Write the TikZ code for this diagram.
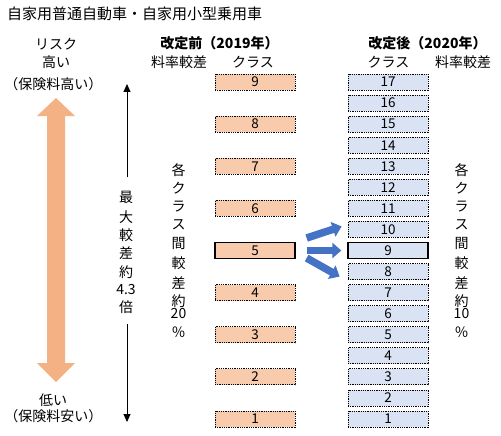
\documentclass[tikz,border=0pt]{standalone}
\usepackage{fontspec}
\setmainfont{Noto Sans CJK JP}
\usetikzlibrary{arrows.meta,calc}
\definecolor{boxorange}{HTML}{F8CBAD}
\definecolor{boxblue}{HTML}{DAE3F3}
\definecolor{bigorange}{HTML}{F4B183}
\definecolor{arrowblue}{HTML}{4472C4}
\begin{document}
\begin{tikzpicture}[x=1pt,y=-1pt,
  lbl/.style={font=\fontsize{14}{16}\selectfont, inner sep=0pt, anchor=center},
  hdr/.style={font=\fontsize{14}{16}\selectfont\bfseries, inner sep=0pt},
  cls/.style={minimum width=80pt, minimum height=16pt, inner sep=0pt,
    font=\fontsize{13.5}{14}\selectfont, draw=black, line width=0.8pt,
    dash pattern=on 0.9pt off 0.9pt},
  oldcls/.style={cls, fill=boxorange},
  newcls/.style={cls, fill=boxblue},
  cur/.style={solid, line width=1.3pt},
  thinarrow/.style={line width=0.9pt, -{Triangle[width=7pt,length=8pt]}},
  bluearrow/.style={draw=arrowblue, line width=7.5pt, -{Triangle[width=15pt,length=9pt]}}
]
\useasboundingbox (0,0) rectangle (501,436);

% title
\node[anchor=west, font=\fontsize{15}{17}\selectfont, inner sep=0pt] (title) at (7,14) {自家用普通自動車・自家用小型乗用車};

% left labels
\node[lbl] (risk) at (56,44) {リスク};
\node[lbl] (high) at (56,62.5) {高い};
\node[lbl] (highp) at (53.5,84) {（保険料高い）};
\node[lbl] (low) at (53,400) {低い};
\node[lbl] (lowp) at (53.5,416) {（保険料安い）};

% headers
\node[hdr] (hbefore) at (219.5,43.5) {改定前（2019年）};
\node[lbl] (rateL) at (179,62.5) {料率較差};
\node[lbl] (clsL) at (253,62.5) {クラス};
\node[hdr] (hafter) at (427.5,43.5) {改定後（2020年）};
\node[lbl] (clsR) at (388.5,62.5) {クラス};
\node[lbl] (rateR) at (463,62.5) {料率較差};

% big orange double arrow
\fill[bigorange] (56,98) -- (75,116) -- (65,116) -- (65,363) -- (75,363) -- (56,382)
  -- (37,363) -- (47,363) -- (47,116) -- (37,116) -- cycle;

% max difference text and arrow
\foreach \c/\y [count=\i] in {最/197, 大/217, 較/235, 差/253, 約/272, 4.3/290, 倍/307}
  \node[lbl] (md\i) at (126,\y) {\c};
\coordinate (mdtop) at (127,84);
\coordinate (mdtopend) at (127,177);
\coordinate (mdbotstart) at (127,324);
\coordinate (mdbot) at (127,422);
\draw[thinarrow] (mdtopend) -- (mdtop);
\draw[thinarrow] (mdbotstart) -- (mdbot);

% vertical texts
\foreach \c/\y [count=\i] in {各/170, ク/188, ラ/207, ス/225, 間/243, 較/263, 差/283, 約/301, 20/314, ％/332}
  \node[lbl] (lv\i) at (178.5,\y) {\c};
\foreach \c/\y [count=\i] in {各/170, ク/188, ラ/207, ス/225, 間/243, 較/263, 差/283, 約/301, 10/314, ％/332}
  \node[lbl] (rv\i) at (461.5,\y) {\c};

% class boxes
\foreach \k in {1,2,3,4,6,7,8,9}
  \node[oldcls] (L\k) at (255,{419-(2*\k-2)*21.06}) {\k};
\node[oldcls, cur] (L5) at (255,{419-8*21.06}) {5};
\foreach \k in {1,...,8,10,11,...,17}
  \node[newcls] (R\k) at (388,{419-(\k-1)*21.06}) {\k};
\node[newcls, cur] (R9) at (388,{419-8*21.06}) {9};

% blue arrows
\draw[bluearrow] ($(L5.east)+(11,-12.5)$) -- ($(R10.west)+(-6,-3)$);
\draw[bluearrow, shorten <=11pt, shorten >=6pt] (L5.east) -- (R9.west);
\draw[bluearrow] ($(L5.east)+(11,7.5)$) -- ($(R8.west)+(-8,5)$);
\end{tikzpicture}
\end{document}
